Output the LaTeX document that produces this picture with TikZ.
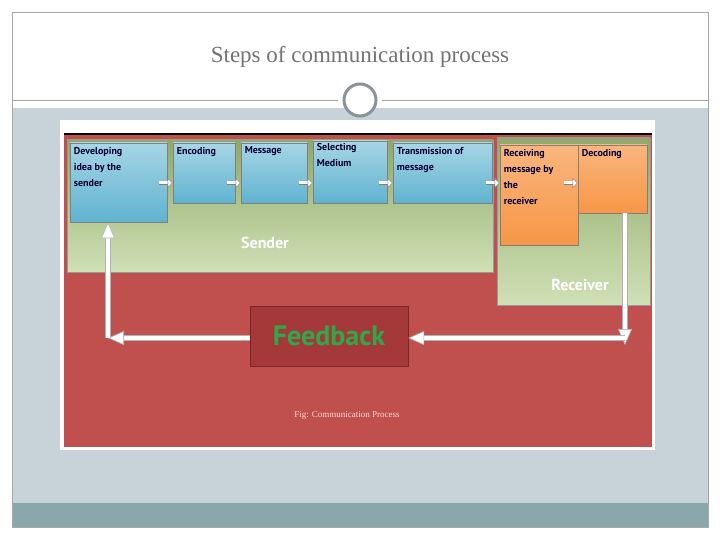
\documentclass[tikz,border=0pt]{standalone}
\usepackage{fontspec}
\setmainfont{Liberation Serif}
\newfontfamily\boxfont{PT Sans}
\usetikzlibrary{arrows.meta}
\definecolor{slidebg}{HTML}{C8D3D9}
\definecolor{bandbg}{HTML}{8AA8AB}
\definecolor{redbg}{HTML}{C0504D}
\definecolor{greenbg}{HTML}{A9C77A}
\definecolor{bluebox}{HTML}{5FB3D0}
\definecolor{orangebox}{HTML}{F79646}
\definecolor{fbbox}{HTML}{A5393A}
\definecolor{fbtext}{HTML}{2EA84A}
\tikzset{
  stepbox/.style={rectangle, draw=black!50, line width=0.6pt, top color=bluebox!55, bottom color=bluebox, inner sep=0pt},
  rstepbox/.style={stepbox, top color=orangebox!70, bottom color=orangebox},
  steptext/.style={anchor=north west, text=black!80!blue, font=\boxfont\bfseries\fontsize{10}{16}\selectfont, align=left, inner sep=4pt},
  group/.style={rectangle, draw=black!40, top color=greenbg!85!black, bottom color=greenbg!55!white, inner sep=0pt},
  grouplabel/.style={text=white, font=\boxfont\bfseries\fontsize{16}{18}\selectfont},
  small/.style={draw=gray, double=white, double distance=3pt, line width=0.5pt, -{Triangle[length=5pt,width=10pt,fill=white]}},
  big/.style={draw=gray!60, double=white, double distance=4.5pt, line width=0.6pt, -{Triangle[length=16pt,width=14pt,fill=white]}}
}
\begin{document}
\begin{tikzpicture}[x=1pt,y=-1pt]
  \useasboundingbox (0,0) rectangle (720,540);
  % Slide
  \fill[white] (0,0) rectangle (720,540);
  \fill[slidebg] (12,108) rectangle (708,503);
  \fill[bandbg] (12,503) rectangle (708,527);
  \draw[gray!70] (12,12) rectangle (708,527);
  \node[text=gray!90!black, font=\fontsize{23}{26}\selectfont] (title) at (360,57) {Steps of communication process};
  \draw[gray!70] (12,100) -- (338,100) (382,100) -- (708,100);
  \node[circle, draw=slidebg!70!black, line width=3pt, fill=white, minimum size=32pt] (ring) at (360,100) {};
  % Figure
  \fill[white] (60,120) rectangle (655,450);
  \fill[redbg] (64,135) rectangle (652,447);
  \draw[black, line width=1.2pt] (64,134) -- (652,134);
  \node[group, minimum width=426pt, minimum height=132pt] (sender) at (280,206) {};
  \node[group, minimum width=153pt, minimum height=167pt] (receiver) at (573.5,221.5) {};
  \node[grouplabel] (senderlbl) at (265,243) {Sender};
  \node[grouplabel] (receiverlbl) at (580,285) {Receiver};
  % Steps
  \node[stepbox, minimum width=97pt, minimum height=79pt] (develop) at (118.5,182.5) {};
  \node[stepbox, minimum width=62pt, minimum height=60pt] (encode) at (204,173) {};
  \node[stepbox, minimum width=66pt, minimum height=60pt] (message) at (274,173) {};
  \node[stepbox, minimum width=74pt, minimum height=62pt] (medium) at (350,172) {};
  \node[stepbox, minimum width=99pt, minimum height=60pt] (transmit) at (442.5,173) {};
  \node[rstepbox, minimum width=78pt, minimum height=100pt] (receive) at (539,195) {};
  \node[rstepbox, minimum width=69pt, minimum height=68pt] (decode) at (612.5,179) {};
  \node[steptext] at (develop.north west) {Developing\\idea by the\\sender};
  \node[steptext] at (encode.north west) {Encoding};
  \node[steptext] at (message.north west) {Message};
  \node[steptext, yshift=2pt] at (medium.north west) {Selecting\\Medium};
  \node[steptext] at (transmit.north west) {Transmission of\\message};
  \node[steptext] at (receive.north west) {Receiving\\message by\\the\\receiver};
  \node[steptext] at (decode.north west) {Decoding};
  % Feedback
  \node[rectangle, draw=fbbox!70!black, fill=fbbox, minimum width=158pt, minimum height=60pt] (feedback) at (329,336) {};
  \node[text=fbtext, font=\boxfont\bfseries\fontsize{28}{30}\selectfont] at (feedback) {Feedback};
  \node[text=white!85!red, font=\fontsize{9}{10}\selectfont] (caption) at (347,415) {Fig: Communication Process};
  % Small arrows
  \coordinate (row) at (0,183);
  \foreach \b in {encode, message, medium, transmit, receive, decode}
    \draw[small] ([xshift=-14pt]\b.west |- row) -- (\b.west |- row);
  % Loop
  \coordinate (down) at (625,345);
  \coordinate (turn) at (108,338);
  \draw[big] (decode.south -| down) -- (down);
  \draw[big] (down |- turn) -- (feedback.east |- turn);
  \draw[big] (feedback.west |- turn) -- (turn);
  \draw[big] (turn) -- (develop.south -| turn);
\end{tikzpicture}
\end{document}
